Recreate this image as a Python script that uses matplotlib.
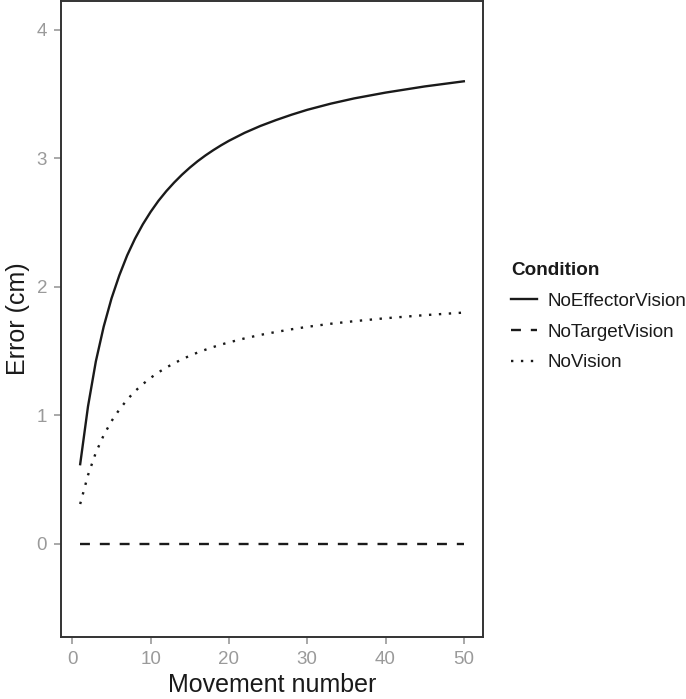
import matplotlib
matplotlib.use("Agg")
import matplotlib.pyplot as plt

# values
movement = [1, 2, 3, 4, 5, 6, 7, 8, 9, 10, 11, 12, 13, 14, 15, 16, 17, 18, 19, 20,
            22, 24, 26, 28, 30, 33, 36, 40, 45, 50]
no_effector = [0.62, 1.07, 1.42, 1.69, 1.91, 2.09, 2.245, 2.375, 2.487, 2.584, 2.67, 2.745,
               2.812, 2.873, 2.928, 2.978, 3.023, 3.064, 3.102, 3.137,
               3.199, 3.252, 3.298, 3.34, 3.378, 3.426, 3.467, 3.512, 3.56, 3.60]
no_target = [0.0] * len(movement)
no_vision = [0.31, 0.535, 0.71, 0.845, 0.955, 1.045, 1.122, 1.188, 1.243, 1.292, 1.335, 1.372,
             1.406, 1.436, 1.464, 1.489, 1.511, 1.532, 1.551, 1.568,
             1.599, 1.626, 1.649, 1.67, 1.689, 1.713, 1.733, 1.756, 1.78, 1.80]

x_ticks = [0, 10, 20, 30, 40, 50]
y_ticks = [0, 1, 2, 3, 4]

INK = "#1a1a1a"
GREY = "#9a9a9a"
FONT = ["Liberation Sans", "DejaVu Sans"]

plt.rcParams["font.family"] = FONT

fig = plt.figure(figsize=(6.86, 6.99), dpi=100)
ax = fig.add_axes([61 / 686, 1 - 637 / 699, (483 - 61) / 686, (637 - 1) / 699])

lw = 1.7
ax.plot(movement, no_effector, color=INK, lw=lw, ls="-", label="NoEffectorVision")
ax.plot(movement, no_target, color=INK, lw=lw, ls=(0, (4.2, 4.2)), label="NoTargetVision")
ax.plot(movement, no_vision, color=INK, lw=lw, ls=(0, (1, 3.2)), label="NoVision")

ax.set_xlim(-1.45, 52.45)
ax.set_ylim(-0.725, 4.225)
ax.set_xticks(x_ticks)
ax.set_yticks(y_ticks)

for side in ax.spines.values():
    side.set_color("#333333")
    side.set_linewidth(1.4)
ax.tick_params(colors=GREY, labelcolor=GREY, labelsize=13.5, length=5, width=1.2, pad=5)

ax.set_xlabel("Movement number", fontsize=18, color=INK, labelpad=4)
ax.set_ylabel("Error (cm)", fontsize=18, color=INK, labelpad=5)

leg = ax.legend(loc="upper left", bbox_to_anchor=(511 / 686, 1 - 262 / 699),
                bbox_transform=fig.transFigure, frameon=False, title="Condition",
                fontsize=13.6, title_fontproperties={"weight": "bold", "size": 13.6},
                alignment="left", borderpad=0, borderaxespad=0,
                handlelength=1.4, handletextpad=0.55, labelspacing=0.72)
for t in leg.get_texts():
    t.set_color(INK)
leg.get_title().set_color(INK)

fig.savefig("out.png", dpi=100)
